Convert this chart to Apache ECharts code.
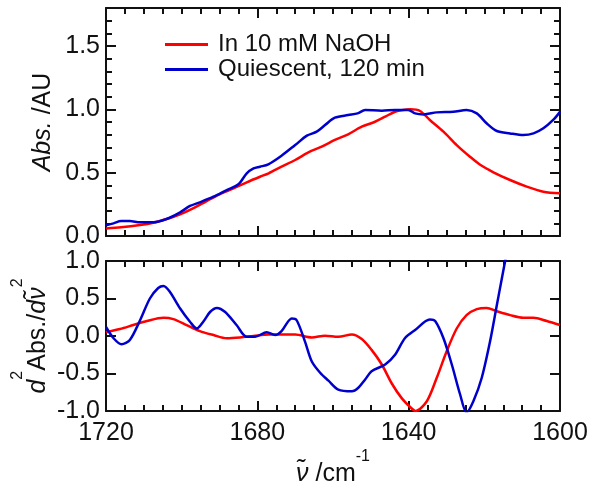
<!DOCTYPE html>
<html>
<head>
<meta charset="utf-8">
<script src="https://cdn.jsdelivr.net/npm/echarts@6/dist/echarts.min.js"></script>
<style>
html, body { margin: 0; padding: 0; background: #ffffff; }
#chart { width: 591px; height: 486px; }
</style>
</head>
<body>
<div id="chart"></div>
<script>
// Amide I band: absorbance spectra (top) and their second derivatives (bottom)
const seriesNames = ['In 10 mM NaOH', 'Quiescent, 120 min'];

// Absorbance, in 10 mM NaOH
const absNaohWn  = [1720, 1716, 1711, 1707.5, 1704, 1700.4, 1697, 1693.4, 1690, 1686.3, 1682.8, 1679.3, 1677, 1673.6, 1670, 1666.5, 1663, 1659.5, 1656, 1652.4, 1648.9, 1646.2, 1643.6, 1641.5, 1639.5, 1637, 1634.4, 1630.8, 1627.3, 1623.8, 1621, 1617.6, 1613.2, 1608.8, 1604.4, 1600];
const absNaohVal = [0.060, 0.069, 0.087, 0.105, 0.134, 0.171, 0.218, 0.276, 0.329, 0.376, 0.424, 0.468, 0.495, 0.547, 0.600, 0.660, 0.705, 0.758, 0.803, 0.863, 0.902, 0.942, 0.981, 0.995, 1.000, 0.987, 0.916, 0.824, 0.718, 0.626, 0.560, 0.503, 0.442, 0.390, 0.350, 0.337];

// Absorbance, quiescent 120 min
const absQuiWn  = [1720, 1718, 1716, 1713.7, 1711, 1707.5, 1704, 1700.4, 1697.8, 1695.2, 1691.6, 1688.1, 1685, 1682.8, 1681, 1679.3, 1677.1, 1673.6, 1670, 1666.9, 1664.3, 1662.1, 1659.5, 1656, 1653.5, 1651.5, 1647.1, 1643.6, 1640.1, 1638.3, 1636, 1632.6, 1628.2, 1624.7, 1622, 1619.4, 1616.7, 1613.2, 1609.7, 1607, 1604.4, 1601.8, 1600];
const absQuiVal = [0.085, 0.100, 0.118, 0.118, 0.108, 0.108, 0.134, 0.187, 0.237, 0.266, 0.310, 0.363, 0.408, 0.495, 0.534, 0.547, 0.566, 0.634, 0.718, 0.792, 0.824, 0.876, 0.934, 0.955, 0.968, 0.995, 0.989, 0.995, 0.995, 0.968, 0.960, 0.976, 0.980, 0.995, 0.968, 0.890, 0.829, 0.810, 0.797, 0.810, 0.850, 0.916, 0.980];

// Second derivative, in 10 mM NaOH
const derNaohWn  = [1720, 1716.3, 1712.8, 1709.2, 1704.8, 1702.2, 1698.7, 1695.2, 1691.6, 1688.1, 1684.6, 1681, 1677, 1670, 1665.6, 1662.1, 1658.6, 1655, 1652.4, 1649.8, 1647.1, 1644.5, 1641.9, 1639.2, 1638.2, 1635.2, 1632.6, 1630, 1627.3, 1624.7, 1622, 1619.4, 1616.7, 1613.2, 1609.7, 1607, 1603.5, 1600];
const derNaohVal = [0.05, 0.093, 0.146, 0.200, 0.243, 0.225, 0.146, 0.066, 0.013, -0.030, -0.020, 0.000, 0.020, 0.020, -0.020, 0.005, -0.010, 0.020, -0.040, -0.185, -0.380, -0.630, -0.825, -0.967, -1.000, -0.870, -0.560, -0.210, 0.100, 0.278, 0.358, 0.375, 0.330, 0.278, 0.243, 0.243, 0.200, 0.146];

// Second derivative, quiescent 120 min
const derQuiWn  = [1720, 1718, 1715.9, 1713.7, 1711, 1708.4, 1706.2, 1704.8, 1703.1, 1700.4, 1697.8, 1696, 1694.3, 1692.5, 1690.7, 1688.5, 1685.5, 1682.8, 1680.6, 1677.5, 1675.3, 1673.6, 1670.9, 1669.6, 1667.4, 1665.6, 1663.4, 1661.2, 1658.6, 1655, 1653.3, 1651.5, 1649.8, 1646.2, 1643.6, 1641, 1638.3, 1634.4, 1633, 1630.8, 1628.6, 1626.4, 1624.7, 1622.9, 1620.7, 1618.5, 1616.7, 1615.4, 1614.5, 1613];
const derQuiVal = [0.12, -0.03, -0.11, -0.053, 0.21, 0.50, 0.64, 0.667, 0.587, 0.367, 0.19, 0.10, 0.19, 0.32, 0.375, 0.32, 0.146, -0.01, -0.01, 0.05, 0.013, 0.066, 0.234, 0.21, -0.075, -0.34, -0.49, -0.596, -0.715, -0.737, -0.69, -0.58, -0.47, -0.38, -0.25, -0.03, 0.08, 0.22, 0.20, -0.03, -0.38, -0.78, -1.02, -0.87, -0.56, -0.075, 0.41, 0.76, 1.00, 1.40];

// Axis ticks
const wnTicks = [1600, 1640, 1680, 1720];
const absTicks = [0.0, 0.5, 1.0, 1.5];
const derTicks = [-1.0, -0.5, 0.0, 0.5, 1.0];

const RED = '#ff0000';
const BLUE = '#0000cc';
const INK = '#111111';
const FONT = '"Liberation Sans", Arial, Helvetica, sans-serif';
const MAJOR_LEN = 10, MINOR_LEN = 6;

function pairs(wn, val) { return wn.map((w, i) => [w, val[i]]); }

const wnMin = wnTicks[0], wnMax = wnTicks[wnTicks.length - 1];
const wnStep = wnTicks[1] - wnTicks[0];

function wnAxis(gridIndex, position, withLabels) {
  const ax = {
    type: 'value', gridIndex: gridIndex, position: position, inverse: true,
    min: wnMin, max: wnMax, interval: wnStep,
    axisLine: { show: true, onZero: false, lineStyle: { color: INK, width: 2 } },
    axisTick: { show: true, inside: true, length: MAJOR_LEN, lineStyle: { color: INK, width: 2 } },
    minorTick: { show: true, splitNumber: 8, length: MINOR_LEN, lineStyle: { color: INK, width: 2 } },
    splitLine: { show: false },
    axisLabel: { show: false }
  };
  if (withLabels) {
    ax.axisLabel = { show: true, margin: 10, fontSize: 25, color: INK, fontFamily: FONT, formatter: v => String(v) };
    ax.name = '{nu|ν̃} /cm{sup|-1}';
    ax.nameLocation = 'middle';
    ax.nameGap = 38;
    ax.nameMoveOverlap = false;
    ax.nameTextStyle = {
      fontSize: 25, color: INK, fontFamily: FONT, lineHeight: 50,
      rich: {
        nu: { fontSize: 25, fontStyle: 'italic', color: INK, fontFamily: FONT, lineHeight: 50 },
        sup: { fontSize: 16, color: INK, fontFamily: FONT, verticalAlign: 'top', lineHeight: 16 }
      }
    };
  }
  return ax;
}

// Tick-carrying value axis (frame side, major or minor ticks)
function valAxis(gridIndex, position, lo, hi, step, tickLen, opts) {
  const ax = {
    type: 'value', gridIndex: gridIndex, position: position,
    min: lo, max: hi, interval: step,
    axisLine: { show: !!opts.line, onZero: false, lineStyle: { color: INK, width: 2 } },
    axisTick: { show: true, inside: true, length: tickLen, lineStyle: { color: INK, width: 2 } },
    splitLine: { show: false },
    axisLabel: { show: false }
  };
  if (opts.labels) {
    ax.axisLabel = { show: true, margin: 6, fontSize: 25, color: INK, fontFamily: FONT,
      showMaxLabel: opts.showMax, formatter: v => v.toFixed(1) };
  }
  return ax;
}

// Axis that only carries the rotated title of a panel
function titleAxis(gridIndex, lo, hi, name, gap, style) {
  return {
    type: 'value', gridIndex: gridIndex, position: 'left', min: lo, max: hi,
    axisLine: { show: false, onZero: false }, axisTick: { show: false },
    axisLabel: { show: false }, splitLine: { show: false },
    name: name, nameLocation: 'middle', nameGap: gap, nameRotate: 90, nameMoveOverlap: false,
    nameTextStyle: style
  };
}

const absMin = 0, absMax = 1.8, absMinorStep = 0.1;
const derMin = derTicks[0], derMax = derTicks[derTicks.length - 1];
const absStep = absTicks[1] - absTicks[0];
const derStep = derTicks[1] - derTicks[0];

const option = {
  animation: false,
  backgroundColor: '#ffffff',
  textStyle: { fontFamily: FONT },
  grid: [
    { left: 106, top: 8, width: 454, height: 228, outerBoundsMode: 'none', containLabel: false },
    { left: 106, top: 261, width: 454, height: 150, outerBoundsMode: 'none', containLabel: false }
  ],
  legend: {
    left: 165, top: 32, padding: 0, orient: 'vertical', icon: 'rect',
    itemWidth: 43, itemHeight: 3, itemGap: 0,
    textStyle: { fontSize: 24, color: INK, fontFamily: FONT, lineHeight: 25, padding: [0, 0, 0, 5] },
    data: seriesNames
  },
  xAxis: [
    wnAxis(0, 'bottom', false),
    wnAxis(0, 'top', false),
    wnAxis(1, 'bottom', true),
    wnAxis(1, 'top', false)
  ],
  yAxis: [
    valAxis(0, 'left', absMin, absMax, absStep, MAJOR_LEN, { line: true, labels: true, showMax: false }),
    valAxis(0, 'left', absMin, absMax, absMinorStep, MINOR_LEN, {}),
    valAxis(0, 'right', absMin, absMax, absStep, MAJOR_LEN, { line: true }),
    valAxis(0, 'right', absMin, absMax, absMinorStep, MINOR_LEN, {}),
    valAxis(1, 'left', derMin, derMax, derStep, MAJOR_LEN, { line: true, labels: true, showMax: true }),
    valAxis(1, 'right', derMin, derMax, derStep, MAJOR_LEN, { line: true }),
    titleAxis(0, absMin, absMax, '{i|Abs.} /AU', 50, {
      fontSize: 25, color: INK, fontFamily: FONT,
      rich: { i: { fontSize: 25, fontStyle: 'italic', color: INK, fontFamily: FONT } }
    }),
    titleAxis(1, derMin, derMax, '{i|d}{sup|2}Abs./{i|dν̃}{sup|2}', 40, {
      fontSize: 25, color: INK, fontFamily: FONT, lineHeight: 56,
      rich: {
        i: { fontSize: 25, fontStyle: 'italic', color: INK, fontFamily: FONT, lineHeight: 56 },
        sup: { fontSize: 16, color: INK, fontFamily: FONT, verticalAlign: 'top', lineHeight: 16 }
      }
    })
  ],
  series: [
    { name: seriesNames[0], type: 'line', xAxisIndex: 0, yAxisIndex: 0, data: pairs(absNaohWn, absNaohVal),
      smooth: 0.3, symbol: 'none', lineStyle: { color: RED, width: 2.5 }, itemStyle: { color: RED } },
    { name: seriesNames[1], type: 'line', xAxisIndex: 0, yAxisIndex: 0, data: pairs(absQuiWn, absQuiVal),
      smooth: 0.3, symbol: 'none', lineStyle: { color: BLUE, width: 2.5 }, itemStyle: { color: BLUE } },
    { name: seriesNames[0], type: 'line', xAxisIndex: 2, yAxisIndex: 4, data: pairs(derNaohWn, derNaohVal),
      smooth: 0.3, symbol: 'none', clip: true, lineStyle: { color: RED, width: 2.5 }, itemStyle: { color: RED } },
    { name: seriesNames[1], type: 'line', xAxisIndex: 2, yAxisIndex: 4, data: pairs(derQuiWn, derQuiVal),
      smooth: 0.3, symbol: 'none', clip: true, lineStyle: { color: BLUE, width: 2.5 }, itemStyle: { color: BLUE } }
  ]
};

const chart = echarts.init(document.getElementById('chart'), null, { renderer: 'canvas' });
chart.setOption(option);
</script>
</body>
</html>
